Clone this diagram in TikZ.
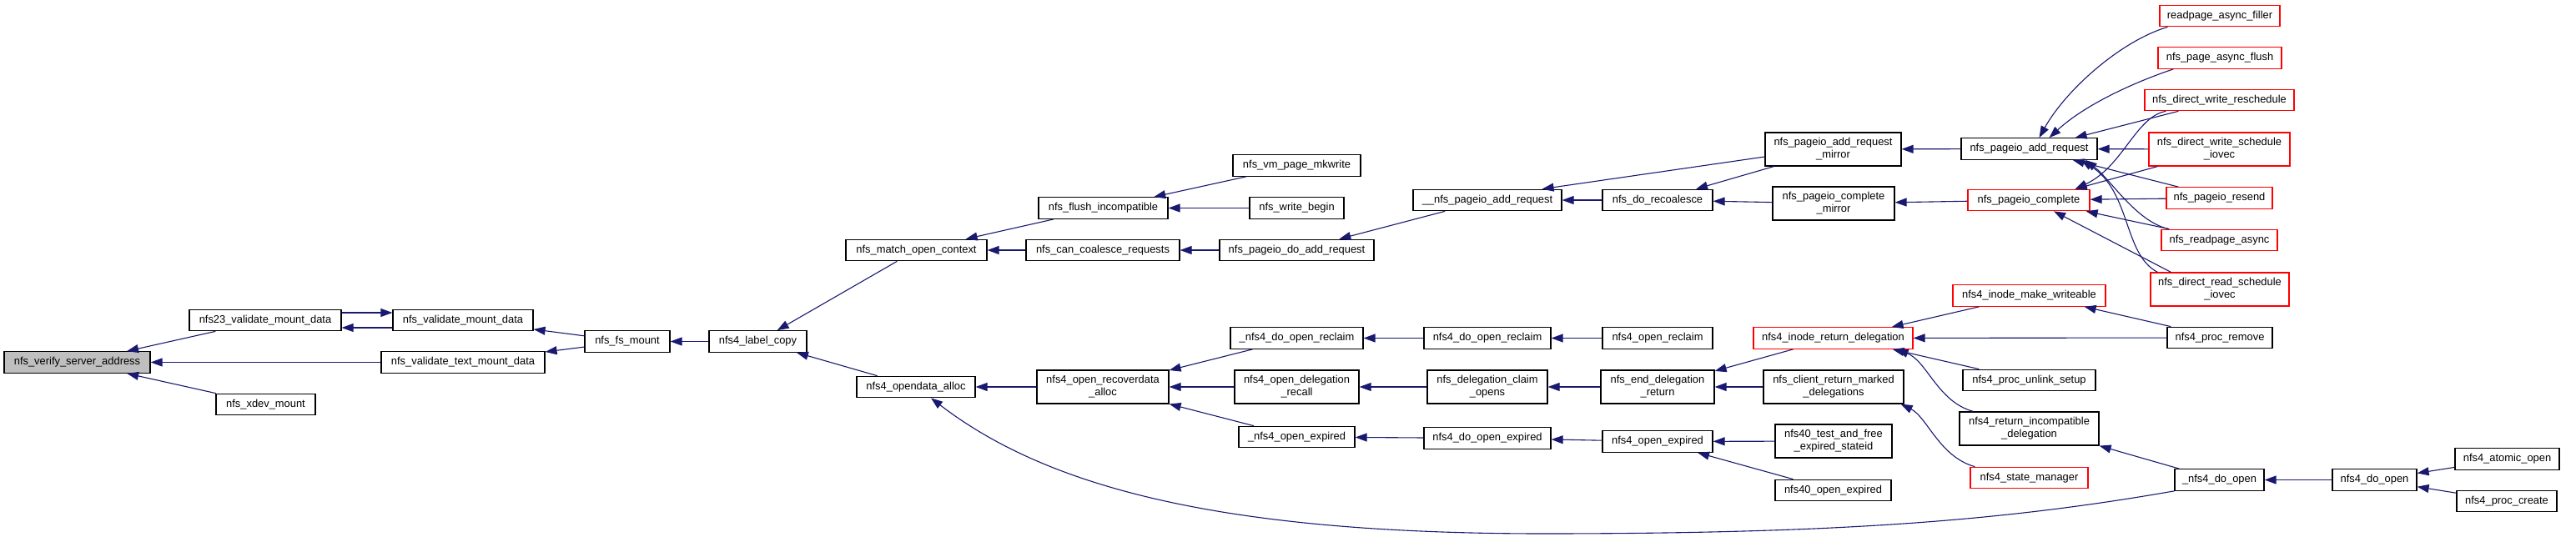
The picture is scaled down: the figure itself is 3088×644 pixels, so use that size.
\documentclass[tikz,border=0pt]{standalone}
\usepackage{fontspec}
\setmainfont{Liberation Sans}
\usetikzlibrary{arrows.meta}
\definecolor{edgeblue}{HTML}{191970}
\definecolor{rootgray}{HTML}{BFBFBF}

\begin{document}
\begin{tikzpicture}[x=1pt, y=-1pt,
	fn/.style={draw=black, line width=1.2pt, fill=white, inner sep=0pt, minimum height=25.5pt, align=center, font=\fontsize{12.9}{15}\selectfont},
	fntwo/.style={fn, minimum height=40pt},
	redfn/.style={fn, draw=red},
	redtwo/.style={fntwo, draw=red},
	call/.style={draw=edgeblue, line width=1.1pt, -{Triangle[length=14pt,width=10pt]}}]
	\useasboundingbox (0,0) rectangle (3088,644);
	% functions, column by column
	\node[fn, fill=rootgray, minimum width=175pt] (vsa) at (92.5,434.5) {nfs\_verify\_server\_address};
	\node[fn, minimum width=182pt] (n23) at (318,384) {nfs23\_validate\_mount\_data};
	\node[fn, minimum width=119pt] (xdev) at (318.5,485) {nfs\_xdev\_mount};
	\node[fn, minimum width=168pt] (vmd) at (555,384) {nfs\_validate\_mount\_data};
	\node[fn, minimum width=196pt] (vtmd) at (555,434.5) {nfs\_validate\_text\_mount\_data};
	\node[fn, minimum width=102pt] (fsm) at (752,409.5) {nfs\_fs\_mount};
	\node[fn, minimum width=117pt] (lc) at (908.5,409.5) {nfs4\_label\_copy};
	\node[fn, minimum width=169pt] (moc) at (1098.5,300) {nfs\_match\_open\_context};
	\node[fn, minimum width=142pt] (oda) at (1098,464) {nfs4\_opendata\_alloc};
	\node[fn, minimum width=155pt] (fi) at (1322.5,249.5) {nfs\_flush\_incompatible};
	\node[fn, minimum width=184pt] (ccr) at (1322,300) {nfs\_can\_coalesce\_requests};
	\node[fntwo, minimum width=158pt] (ora) at (1322,464) {nfs4\_open\_recoverdata\\\_alloc};
	\node[fn, minimum width=153pt] (vpm) at (1554.5,198.5) {nfs\_vm\_page\_mkwrite};
	\node[fn, minimum width=113pt] (wb) at (1554.5,249.5) {nfs\_write\_begin};
	\node[fn, minimum width=185pt] (pdar) at (1554.5,300) {nfs\_pageio\_do\_add\_request};
	\node[fn, minimum width=159pt] (udor) at (1554.5,405.5) {\_nfs4\_do\_open\_reclaim};
	\node[fntwo, minimum width=149pt] (odr) at (1554.5,464) {nfs4\_open\_delegation\\\_recall};
	\node[fn, minimum width=139pt] (uoe) at (1554.5,524) {\_nfs4\_open\_expired};
	\node[fn, minimum width=178pt] (upar) at (1783,240) {\_\_nfs\_pageio\_add\_request};
	\node[fn, minimum width=152pt] (dor) at (1783,405.5) {nfs4\_do\_open\_reclaim};
	\node[fntwo, minimum width=144pt] (dco) at (1783,464) {nfs\_delegation\_claim\\\_opens};
	\node[fn, minimum width=152pt] (doe) at (1783,525.5) {nfs4\_do\_open\_expired};
	\node[fn, minimum width=132pt] (drc) at (1987,240) {nfs\_do\_recoalesce};
	\node[fn, minimum width=132pt] (orc) at (1987,405.5) {nfs4\_open\_reclaim};
	\node[fntwo, minimum width=136pt] (edr) at (1987,464) {nfs\_end\_delegation\\\_return};
	\node[fn, minimum width=132pt] (ope) at (1987,529.5) {nfs4\_open\_expired};
	\node[fntwo, minimum width=163pt] (parm) at (2197.5,179) {nfs\_pageio\_add\_request\\\_mirror};
	\node[fntwo, minimum width=146pt] (pcm) at (2198,244) {nfs\_pageio\_complete\\\_mirror};
	\node[redfn, minimum width=191pt] (ird) at (2197.5,405.5) {nfs4\_inode\_return\_delegation};
	\node[fntwo, minimum width=168pt] (crmd) at (2198,464) {nfs\_client\_return\_marked\\\_delegations};
	\node[fntwo, minimum width=140pt] (tfe) at (2198,529) {nfs40\_test\_and\_free\\\_expired\_stateid};
	\node[fn, minimum width=139pt] (foe) at (2197.5,588) {nfs40\_open\_expired};
	\node[fn, minimum width=163pt] (par) at (2432.5,178.5) {nfs\_pageio\_add\_request};
	\node[redfn, minimum width=146pt] (pc) at (2432,240) {nfs\_pageio\_complete};
	\node[redfn, minimum width=183pt] (imw) at (2432.5,354.5) {nfs4\_inode\_make\_writeable};
	\node[fn, minimum width=159pt] (pus) at (2432.5,456) {nfs4\_proc\_unlink\_setup};
	\node[fntwo, minimum width=167pt] (rid) at (2432.5,514) {nfs4\_return\_incompatible\\\_delegation};
	\node[redfn, minimum width=141pt] (sm) at (2432.5,573) {nfs4\_state\_manager};
	\node[redfn, minimum width=144pt] (raf) at (2661,19) {readpage\_async\_filler};
	\node[redfn, minimum width=148pt] (paf) at (2661,69.5) {nfs\_page\_async\_flush};
	\node[redfn, minimum width=179pt] (dwr) at (2660.5,120) {nfs\_direct\_write\_reschedule};
	\node[redtwo, minimum width=169pt] (dwsi) at (2660.5,179) {nfs\_direct\_write\_schedule\\\_iovec};
	\node[redfn, minimum width=127pt] (prs) at (2660.5,237.5) {nfs\_pageio\_resend};
	\node[redfn, minimum width=139pt] (rpa) at (2660.5,288) {nfs\_readpage\_async};
	\node[redtwo, minimum width=166pt] (drsi) at (2661,347) {nfs\_direct\_read\_schedule\\\_iovec};
	\node[fn, minimum width=126pt] (prm) at (2661,405) {nfs4\_proc\_remove};
	\node[fn, minimum width=107pt] (udo) at (2660.5,575.5) {\_nfs4\_do\_open};
	\node[fn, minimum width=101pt] (ndo) at (2846.5,575.5) {nfs4\_do\_open};
	\node[fn, minimum width=125pt] (ao) at (3005.5,550.5) {nfs4\_atomic\_open};
	\node[fn, minimum width=120pt] (pcr) at (3005,601) {nfs4\_proc\_create};
	\coordinate (dip) at (1850,640);
	% calls, caller -> callee
	\draw[call] (n23) -- (vsa);
	\draw[call] (vtmd) -- (vsa);
	\draw[call] (xdev) -- (vsa);
	\draw[call] ([yshift=9pt]n23.east) -- ([yshift=9pt]vmd.west);
	\draw[call] ([yshift=-9pt]vmd.west) -- ([yshift=-9pt]n23.east);
	\draw[call] (fsm) -- (vmd);
	\draw[call] (fsm) -- (vtmd);
	\draw[call] (lc) -- (fsm);
	\draw[call] (moc) -- (lc);
	\draw[call] (oda) -- (lc);
	\draw[call] (fi) -- (moc);
	\draw[call] (ccr) -- (moc);
	\draw[call] (vpm) -- (fi);
	\draw[call] (wb) -- (fi);
	\draw[call] (pdar) -- (ccr);
	\draw[call] (upar) -- (pdar);
	\draw[call] (drc) -- (upar);
	\draw[call] ([yshift=-9pt]parm.west) -- ([xshift=-24pt]upar.north east);
	\draw[call] (parm) -- (drc);
	\draw[call] (pcm) -- (drc);
	\draw[call] (par) -- (parm);
	\draw[call] (pc) -- (pcm);
	\draw[call] ([xshift=10pt]raf.south west) .. controls (2540,50) and (2475,110) .. ([xshift=12pt]par.north);
	\draw[call] ([xshift=19pt]paf.south west) .. controls (2560,98) and (2500,125) .. ([xshift=24pt]par.north);
	\draw[call] ([xshift=41pt]dwr.south west) -- ([xshift=-27pt]par.north east);
	\draw[call] (dwsi) -- (par);
	\draw[call] ([xshift=15pt]prs.north west) -- ([xshift=-30pt]par.south east);
	\draw[call] ([xshift=9pt]rpa.north west) .. controls (2560,265) and (2530,215) .. ([xshift=-15pt]par.south east);
	\draw[call] ([xshift=9pt]drsi.north west) .. controls (2545,305) and (2555,230) .. ([xshift=-20pt]par.south east);
	\draw[call] ([xshift=26pt]dwr.south west) .. controls (2560,140) and (2545,200) .. ([xshift=-18pt]pc.north east);
	\draw[call] ([xshift=11pt]dwsi.south west) -- ([xshift=-18pt]pc.north east);
	\draw[call] (prs) -- (pc);
	\draw[call] ([xshift=10pt]rpa.north west) -- ([xshift=-5pt]pc.south east);
	\draw[call] ([xshift=25pt]drsi.north west) -- ([xshift=30pt]pc.south);
	\draw[call] (ora) -- (oda);
	\draw[call] (udor) -- (ora);
	\draw[call] (odr) -- (ora);
	\draw[call] (uoe) -- (ora);
	\draw[call] (dor) -- (udor);
	\draw[call] (orc) -- (dor);
	\draw[call] (dco) -- (odr);
	\draw[call] (edr) -- (dco);
	\draw[call] (ird) -- (edr);
	\draw[call] (crmd) -- (edr);
	\draw[call] (doe) -- (uoe);
	\draw[call] (ope) -- (doe);
	\draw[call] (tfe) -- (ope);
	\draw[call] (foe) -- (ope);
	\draw[call] ([xshift=32pt]imw.south west) -- ([xshift=-26pt]ird.north east);
	\draw[call] ([xshift=20pt]pus.north west) -- ([xshift=-25pt]ird.south east);
	\draw[call] ([xshift=17pt]rid.north west) .. controls (2323,482) and (2310,433) .. ([xshift=-20pt]ird.south east);
	\draw[call] ([xshift=6pt]sm.north west) .. controls (2325,548) and (2310,500) .. ([xshift=-4pt]crmd.south east);
	\draw[call] ([xshift=5pt]prm.north west) -- ([xshift=-26pt]imw.south east);
	\draw[call] (prm) -- (ird);
	\draw[call] ([xshift=6pt]udo.north west) -- (rid.south east);
	\draw[call] (udo.south west) .. controls (2400,625) and (2200,640) .. (dip) .. controls (1450,640) and (1250,580) .. ([xshift=18pt]oda.south);
	\draw[call] (ndo) -- (udo);
	\draw[call] (ao) -- (ndo);
	\draw[call] (pcr) -- (ndo);
\end{tikzpicture}
\end{document}
